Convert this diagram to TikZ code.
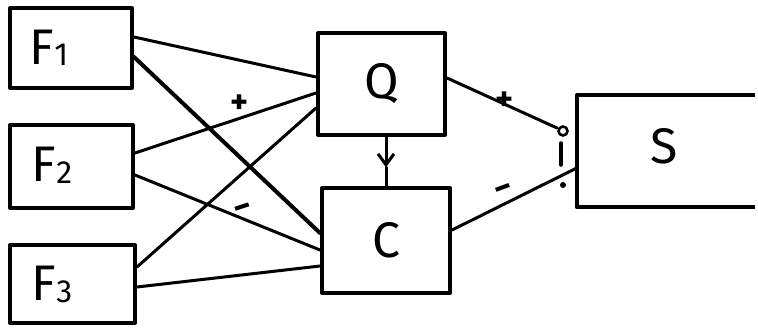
\documentclass[tikz,border=0pt]{standalone}
\usepackage{fontspec}
\setmainfont{Fira Sans}
\usetikzlibrary{calc,arrows.meta}
\begin{document}
\begin{tikzpicture}[x=1pt,y=-1pt,
  box/.style={draw, line width=4pt, inner sep=0pt, line join=round},
  wire/.style={line width=3pt, line cap=round},
  big/.style={font=\fontsize{50}{50}\selectfont, inner sep=0pt},
  sgn/.style={font=\fontsize{34}{34}\selectfont\bfseries, inner sep=0pt}]
\useasboundingbox (0,0) rectangle (758,327);
% boxes
\node[box, minimum width=122pt, minimum height=80pt] (F1) at (71,48) {};
\node[box, minimum width=123pt, minimum height=83pt] (F2) at (71.5,166.5) {};
\node[box, minimum width=125pt, minimum height=78pt] (F3) at (72.5,284) {};
\node[box, big, minimum width=127pt, minimum height=102pt] (Q) at (381.5,84) {Q};
\node[box, big, minimum width=128pt, minimum height=105pt] (C) at (386,240.5) {C};
\node[inner sep=0pt, minimum width=181pt, minimum height=112pt] (S) at (667.5,151) {};
\draw[line width=4pt, line join=round] ([xshift=-3pt]S.north east) -- (S.north west) -- (S.south west) -- ([xshift=-3pt]S.south east);
% labels
\node[big] (lF1) at (49,48) {F\raisebox{-1pt}{\fontsize{32}{32}\selectfont 1}};
\node[big] (lF2) at (52,165) {F\raisebox{-2pt}{\fontsize{32}{32}\selectfont 2}};
\node[big] (lF3) at (52,284) {F\raisebox{-2pt}{\fontsize{32}{32}\selectfont 3}};
\node[big] (lS) at (664,146) {S};
% connectors F -> Q, C
\draw[wire] ([yshift=11pt]F1.east) -- ([yshift=7pt]Q.west);
\draw[wire, line width=4pt] ([yshift=-9pt]F1.east) -- ([yshift=7.5pt]C.west);
\draw[wire] ([yshift=13.5pt]F2.east) -- ([yshift=-9pt]Q.west);
\draw[wire] ([yshift=-8.5pt]F2.east) -- ([yshift=-9.5pt]C.west);
\draw[wire] ([yshift=17pt]F3.east) -- ([yshift=-24pt]Q.west);
\draw[wire] ([yshift=-3pt]F3.east) -- ([yshift=-25.5pt]C.west);
% Q -> C
\coordinate (qc) at ($(Q.south -| C.north)!0.62!(C.north)$);
\draw[wire, -{Straight Barb[length=11pt,width=16pt,line width=3pt]}] (Q.south -| C.north) -- (qc);
\draw[wire] (qc) -- (C.north);
% switch near S
\coordinate (sw) at (557,128);
\node[draw, circle, line width=2.6pt, minimum size=9pt, inner sep=0pt] (swc) at (563,131) {};
\draw[wire] ([yshift=6pt]Q.east) -- (sw);
\draw[line width=3.5pt, line cap=round] (561,143) coordinate (bt) -- (561,165) coordinate (bb);
\node[fill, circle, minimum size=6pt, inner sep=0pt] (swd) at (563,185) {};
\draw[wire] ([yshift=10.5pt]C.east) -- ([yshift=-17pt]S.west);
% signs
\node[sgn] (p1) at (240,104) {+};
\node[sgn] (p2) at (505,101) {+};
\node[sgn, rotate=18] (m1) at (244,211) {−};
\node[sgn, rotate=20] (m2) at (505,192) {−};
\end{tikzpicture}
\end{document}
